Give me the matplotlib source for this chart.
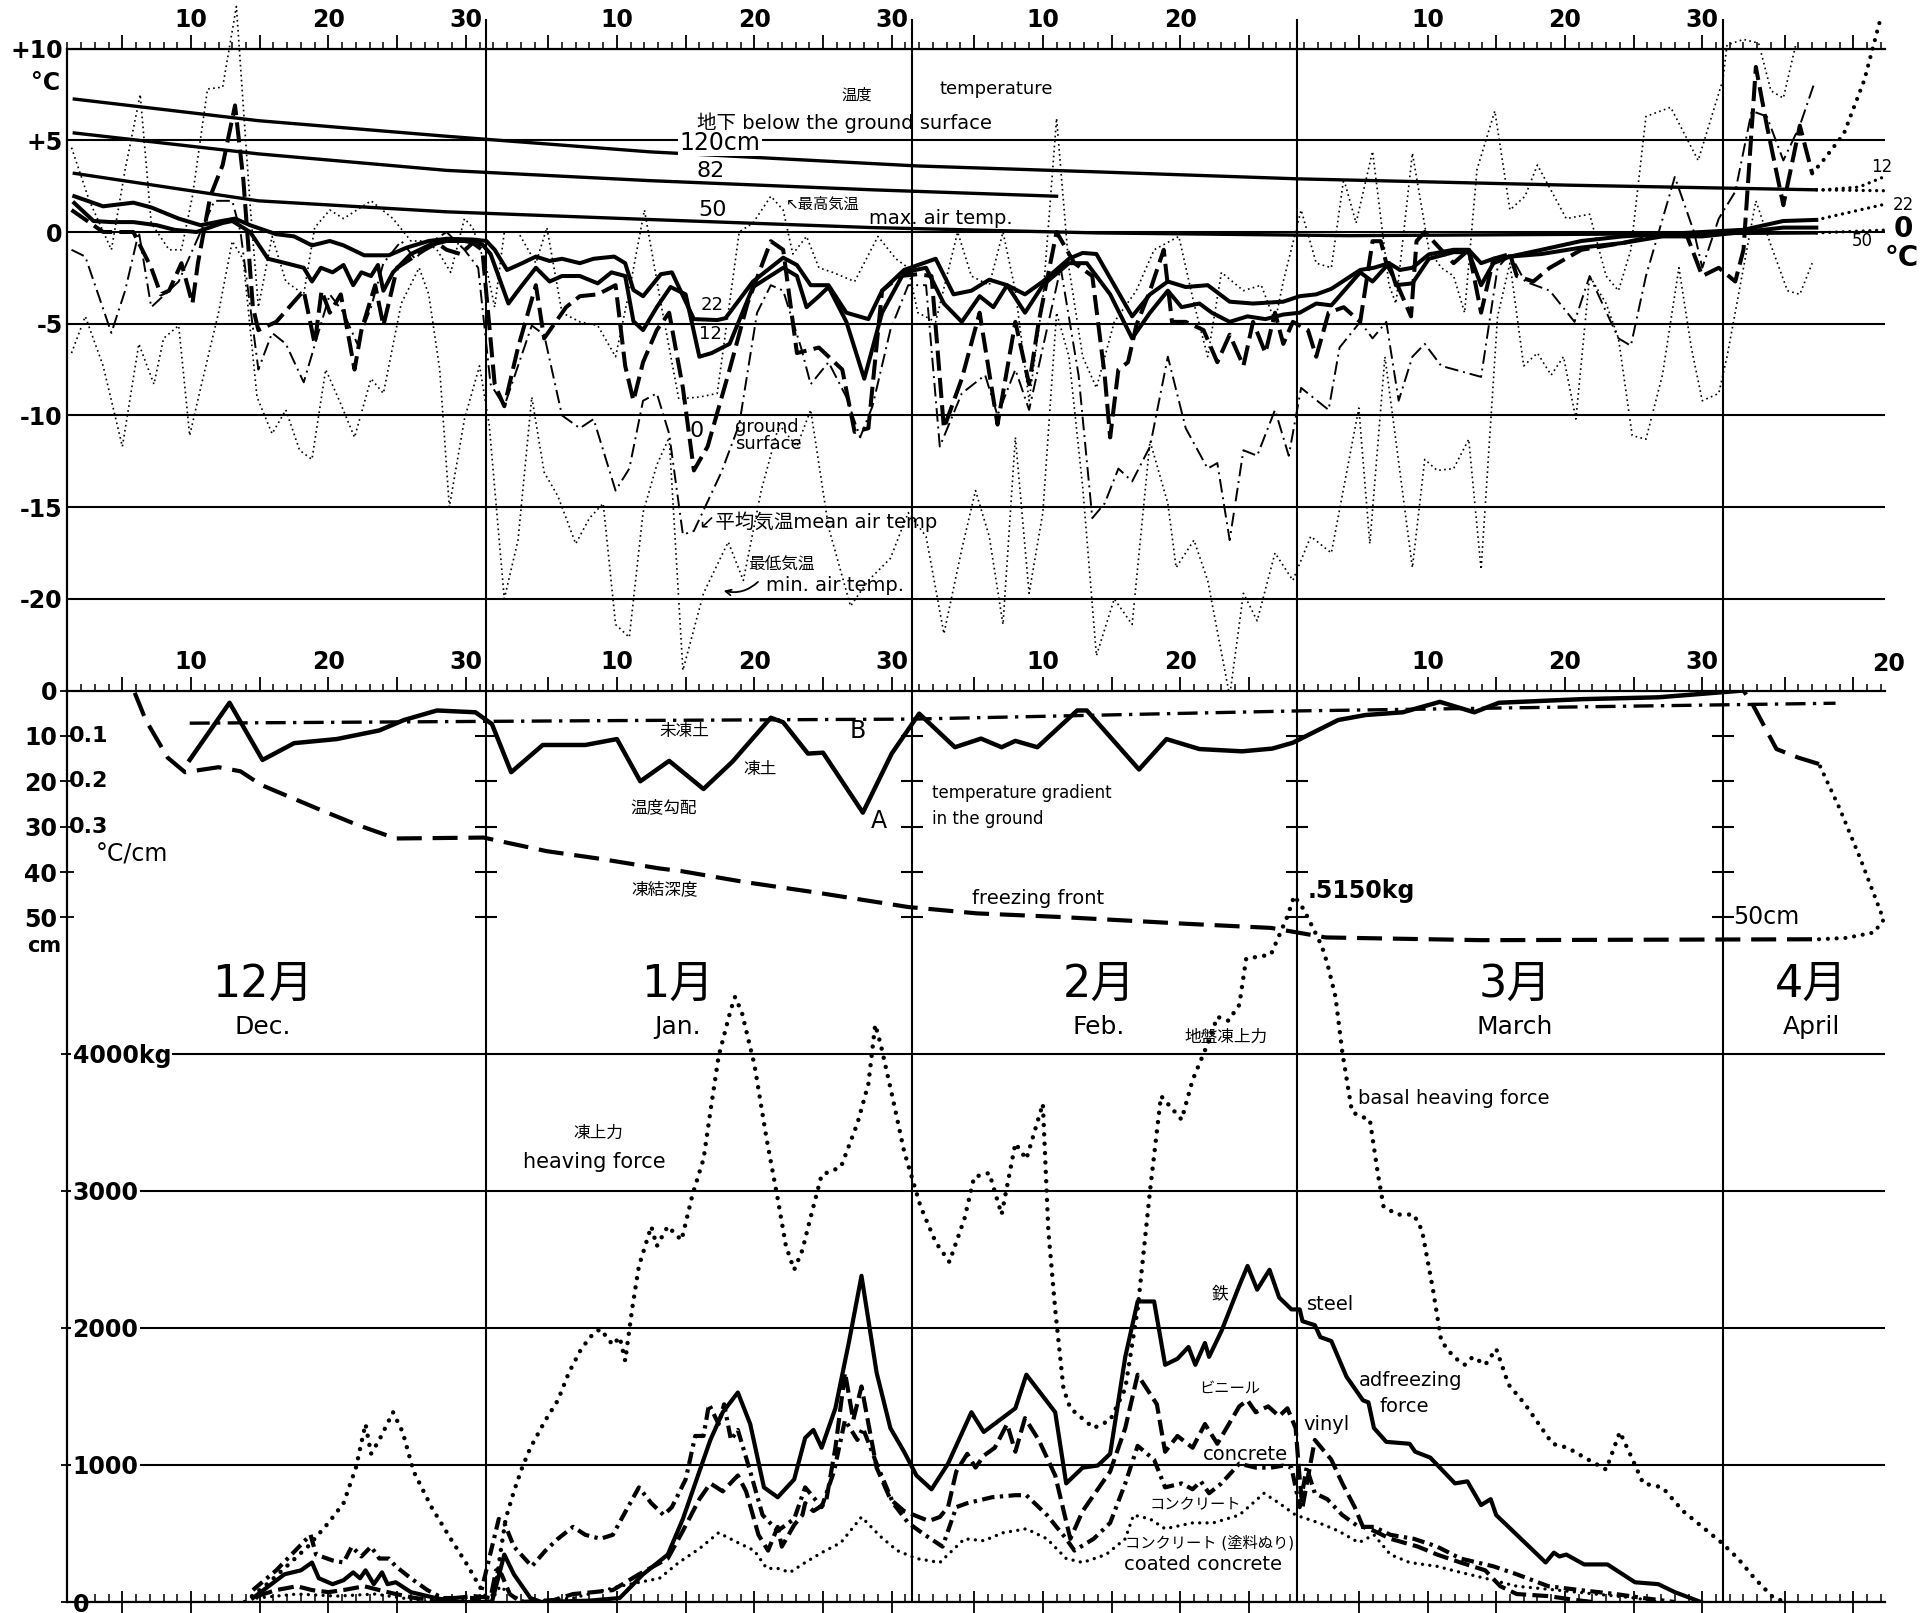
import matplotlib.pyplot as plt
import numpy as np

plt.rcParams['font.family'] = ['DejaVu Sans', 'Noto Sans CJK JP']

W, H = 1932, 1613

# calendar: day counter starts at Dec 1 (Dec, Jan, Feb, Mar, Apr)
month_start = [0, 31, 62, 90, 121]
month_len = [31, 31, 28, 31, 30]
month_kanji = ['12月', '1月', '2月', '3月', '4月']
month_name = ['Dec.', 'Jan.', 'Feb.', 'March', 'April']
x_lo, x_hi = 0.47, 132.8

# ---------------- temperatures (deg C) ----------------
temp_ticks = [10, 5, 0, -5, -10, -15, -20]
temp_labels = ['+10', '+5', '0', '-5', '-10', '-15', '-20']

t120 = [(1, 7.25), (14.4, 6.07), (28.1, 5.22), (42.9, 4.37), (62.4, 3.6), (75.4, 3.28),
        (90, 2.9), (110, 2.55), (127.8, 2.3)]
t82 = [(1, 5.4), (14.4, 4.26), (28.1, 3.36), (42.9, 2.8), (59.1, 2.3), (72.5, 1.95)]
t50 = [(1, 3.2), (14.4, 1.7), (28.1, 1.1), (42.9, 0.68), (59.1, 0.24), (75.4, -0.05),
       (93.8, -0.2), (127.8, -0.05)]
t22 = [(1, 1.95), (3.1, 1.4), (5.3, 1.6), (6.6, 1.34), (8.6, 0.73), (10.2, 0.37), (11.8, 0.61),
       (12.7, 0.73), (13.8, 0.37), (15.7, -0.12), (17, -0.24), (18.3, -0.73), (19.6, -0.49),
       (20.6, -0.73), (22.1, -1.27), (23.9, -1.27), (25.2, -0.85), (26.8, -0.49), (28.1, -0.37),
       (30, -0.41), (31, -0.49), (31.6, -0.97), (32.5, -2.07), (33.6, -1.7), (34.6, -1.34),
       (35.6, -1.58), (36.5, -1.46), (37.8, -1.7), (38.8, -1.46), (40.3, -1.34), (41.1, -1.7),
       (41.7, -3.16), (42.4, -3.5), (43.7, -2.3), (44.5, -2.2), (46.1, -4.75), (47.8, -4.8),
       (48.4, -4.7), (50.4, -2.7), (52.6, -1.4), (53.6, -1.8), (54.6, -2.9), (55.9, -2.9),
       (57.2, -4.4), (58.8, -4.75), (59.8, -3.2), (61.4, -2.07), (63.7, -1.46), (65, -3.4),
       (66.3, -3.2), (67.6, -2.6), (68.9, -2.9), (70.2, -3.4), (71.5, -2.7), (73.4, -1.46),
       (74.4, -1.14), (75.4, -1.2), (76.7, -2.9), (78, -4.6), (79.3, -3.4), (80.6, -2.7),
       (81.9, -3.0), (83.5, -2.9), (85.1, -3.8), (86.8, -3.9), (89, -3.8), (90.2, -3.5),
       (91.4, -3.4), (92.5, -3.1), (94.6, -2.07), (95.6, -1.95), (96.7, -1.7), (97.5, -2.07),
       (98.4, -1.95), (99.6, -1.22), (101.4, -0.97), (102.5, -0.97), (103.4, -1.7),
       (104.3, -1.46), (105.5, -1.34), (107.8, -0.97), (110.7, -0.49), (113.7, -0.24),
       (116.6, -0.12), (119.5, 0), (122.5, 0.12), (125.4, 0.6), (127.8, 0.66)]
t12 = [(1, 1.58), (2.4, 0.6), (3.7, 0.54), (5.3, 0.54), (7, 0.37), (8.3, 0.12), (9.9, 0),
       (11.8, 0.49), (12.5, 0.6), (13.8, 0), (15.1, -1.46), (16.4, -1.7), (17.7, -1.95),
       (18.3, -2.7), (18.95, -1.95), (19.8, -2.2), (20.6, -1.8), (21.3, -2.9), (21.9, -2.2),
       (22.6, -2.4), (23.1, -1.8), (23.5, -3.2), (24.2, -2.2), (25.5, -1.2), (26.8, -0.73),
       (28.1, -0.49), (29.4, -0.49), (30.7, -0.68), (31.3, -1.2), (32.6, -3.9), (33.6, -2.9),
       (34.6, -1.95), (35.6, -2.7), (36.5, -2.4), (37.8, -2.4), (39.1, -2.8), (40.1, -2.2),
       (41.1, -2.4), (41.7, -4.87), (42.4, -5.35), (43.4, -4.1), (44.4, -3.0), (45.5, -3.4),
       (46.5, -6.8), (47.4, -6.6), (48.7, -6.1), (50.4, -3.0), (52.6, -1.95), (53.6, -2.4),
       (54.3, -4.1), (55.2, -3.5), (55.9, -3.0), (57.2, -4.9), (58.5, -8.0), (59.8, -4.4),
       (61.4, -2.2), (63, -1.95), (64.3, -3.9), (65.6, -4.9), (66.9, -3.5), (67.9, -4.1),
       (68.9, -2.9), (70.2, -4.4), (71.5, -2.9), (73.4, -1.7), (74.7, -1.7), (76.4, -3.4),
       (78, -5.8), (79.3, -4.4), (80.6, -3.2), (81.6, -4.1), (82.9, -3.9), (83.8, -4.4),
       (85.1, -4.9), (86.4, -4.6), (87.7, -4.75), (89, -4.5), (90.2, -4.4), (91.4, -3.9),
       (92.5, -4.0), (94.6, -2.2), (95.5, -2.7), (96.7, -1.7), (97.2, -2.9), (98.4, -2.8),
       (99.6, -1.46), (101.4, -1.1), (102.5, -1.1), (103.4, -2.9), (104.3, -1.7),
       (105.5, -1.34), (107.8, -1.2), (110.7, -0.85), (113.7, -0.6), (116.6, -0.24),
       (119.5, -0.24), (122.5, 0), (125.4, 0.24), (127.8, 0.24)]
t_surface = [(0.8, 1.2), (3.1, 0), (5.3, 0), (6.6, -1.95), (7.3, -3.4), (7.9, -3.2), (8.8, -1.7),
             (9.6, -3.9), (10, -1.7), (10.9, 1.95), (11.8, 3.65), (12.7, 6.9), (13.3, 2.9),
             (14, -4.1), (14.4, -5.35), (15.7, -4.9), (17.7, -3.2), (18.5, -6.1), (19, -3.2),
             (19.6, -4.4), (20.4, -3.4), (21.4, -7.5), (21.9, -5.35), (22.9, -2.9), (23.5, -5.1),
             (24.5, -1.95), (25.5, -1.46), (26.5, -0.97), (27.4, -0.6), (28.1, -0.97),
             (29.1, -1.2), (30, -0.6), (30.7, -0.97), (31.6, -8.3), (32.3, -9.5), (33.3, -6.3),
             (34.6, -2.9), (35.2, -5.8), (36.8, -4.1), (37.8, -3.5), (39.1, -3.4), (40.4, -2.9),
             (41.1, -7.3), (41.7, -9.2), (42.4, -7.1), (43.4, -5.35), (44.3, -4.4), (45.3, -8.5),
             (46.1, -13.0), (47.1, -11.7), (48.7, -7.5), (50, -3.9), (51.7, -0.5), (52.6, -0.97),
             (53.6, -6.6), (55.2, -6.3), (56.9, -7.5), (57.8, -10.9), (58.8, -10.7),
             (59.8, -3.2), (61.1, -2.4), (62.4, -2.3), (63.4, -2.4), (64.3, -10.7), (65.6, -8.0),
             (66.9, -4.4), (68.2, -10.5), (69.5, -4.9), (70.5, -8.3), (71.2, -4.9), (72.5, 0),
             (73.8, -1.7), (75.1, -2.4), (76, -7.8), (76.4, -11.2), (77, -7.5), (77.7, -7.1),
             (78.3, -5.1), (79.3, -3.2), (80.3, -0.97), (80.9, -4.9), (81.9, -4.9),
             (83.2, -5.35), (84.2, -7.1), (85.1, -5.6), (86.1, -7.3), (86.8, -4.9), (87.7, -6.6),
             (88.4, -4.4), (89, -6.1), (89.7, -4.9), (90.8, -5.35), (91.4, -6.8), (92.3, -4.4),
             (93.4, -4.1), (94.6, -4.9), (95.5, -0.5), (96.1, -0.5), (96.5, -1.7), (97.2, -2.7),
             (98.3, -4.6), (98.7, -0.5), (99.3, 0), (100.5, -0.97), (101.4, -1.7),
             (102.5, -0.97), (103.4, -4.4), (104.3, -1.46), (105.5, -1.2), (106, -2.4),
             (107.2, -2.7), (108.4, -1.95), (110.7, -0.97), (113.7, -0.6), (116.6, -0.12),
             (118.4, -0.24), (119.5, -2.4), (120.7, -1.95), (121.9, -2.7), (122.5, -0.97),
             (123.4, 9.0), (124.2, 5.8), (125.4, 1.46), (126.6, 5.8), (127.5, 3.2)]
t_surface_ext = [(127.5, 3.2), (128.3, 3.9), (129.8, 5.35), (131.3, 8.3), (132.5, 11.7)]
t_mean = [(0.8, -0.97), (1.8, -1.34), (3.7, -5.5), (4.7, -3.2), (5.7, 0), (6.6, -4.1),
          (7.6, -3.4), (8.6, -2.7), (9.9, -0.49), (11.2, 1.7), (12.5, 1.7), (13.1, 0),
          (14.4, -7.5), (15.4, -5.5), (16.4, -6.1), (17.7, -8.2), (19, -4.9), (19.6, -3.4),
          (20.6, -4.4), (21.6, -6.1), (22.6, -4.1), (23.5, -1.7), (24.8, -0.49), (25.8, -1.46),
          (27.1, -0.49), (28.1, 0), (29.4, -0.97), (30.4, -1.95), (31.3, -8.3), (32.3, -9.5),
          (33.3, -7.3), (34.3, -5.1), (35.2, -5.6), (36.5, -10), (37.8, -10.7), (38.8, -10.2),
          (40.4, -14.1), (41.4, -12.9), (42.4, -9.2), (43.4, -8.8), (44.3, -11), (45.3, -16.5),
          (46.1, -16.3), (48.1, -13.1), (49.4, -10.5), (50.7, -4.4), (51.7, -2.9), (52.6, -3.2),
          (53.9, -6.3), (54.6, -8.3), (55.9, -7.1), (57.2, -9.0), (58.2, -11.2), (59.1, -9.5),
          (60.4, -5.35), (61.7, -2.9), (63, -2.9), (64, -11.7), (65.6, -8.8), (67.3, -7.8),
          (68.2, -10), (69.5, -7.5), (70.5, -9.7), (71.5, -6.3), (72.8, -1.95), (74.1, -7.8),
          (75.1, -15.6), (76, -14.8), (77, -12.9), (78, -13.6), (79.3, -11.7), (80.6, -6.8),
          (81.9, -10.7), (83.5, -12.9), (84.2, -12.6), (85.1, -16.8), (86.1, -11.9),
          (87.1, -12.2), (88.4, -9.7), (89.4, -12.2), (90.3, -8.5), (92.3, -9.7), (93.1, -6.3),
          (94.6, -4.9), (95.5, -5.8), (96.5, -4.9), (97.4, -9.2), (98.4, -6.8), (99.3, -6.1),
          (100.5, -7.3), (103.4, -7.9), (104.6, -1.95), (105.5, -1.2), (106.6, -2.7),
          (108.4, -3.2), (110.2, -4.9), (111.3, -2.4), (113.4, -5.8), (114.3, -6.2),
          (115.4, -2.4), (117.5, 3.0), (118.9, 0), (119.5, -1.95), (120.7, 0.73), (121.9, 2.2),
          (123.1, 6.6), (124.2, 6.3), (125.4, 3.9), (126.6, 5.8), (127.6, 8.0)]
t_max = [(0.8, 4.6), (2.1, 1.7), (3.7, -0.97), (4.7, 3.4), (5.8, 7.5), (6.6, 0.49), (7.9, -0.97),
         (8.8, -0.97), (9.6, 1.95), (10.7, 7.8), (11.8, 7.9), (12.8, 12.3), (13.8, 1.46),
         (14.4, -4.1), (15.4, -0.24), (16.4, -2.7), (17.7, -3.4), (18.5, 0.24), (19.6, 1.2),
         (20.6, 0.73), (22.6, 1.7), (24.2, 0.73), (25.5, -0.49), (26.5, -0.49), (27.4, -0.97),
         (28.4, -2.2), (29.4, 0.73), (30, 0.24), (31, -1.95), (31.6, -4.1), (32.3, 0), (33.3, 0),
         (34.6, -1.7), (35.4, 0.24), (36.5, -4.4), (37.8, -4.9), (39.1, -5.1), (40.4, -6.8),
         (41.4, -3.2), (42.5, 1.2), (43.7, -3.9), (45, -9.1), (46.5, -9.0), (47.8, -8.8),
         (49.4, 0), (50.4, 0.49), (51.7, 1.95), (52.6, 1.2), (53.3, -1.2), (54.3, -0.24),
         (55.2, -1.95), (56.2, -2.2), (57.8, -2.7), (59.5, -0.24), (60.8, -1.46), (61.7, -1.95),
         (62.4, -4.4), (63.7, -4.9), (65.3, 0), (66.3, -2.4), (67.6, -2.9), (68.6, 0),
         (69.5, -3.2), (70.5, -9.2), (71.5, -3.65), (72.5, 6.2), (73.4, -1.95), (74.4, -6.8),
         (75.4, -8.5), (76.7, -4.9), (78.3, -3.2), (79.6, -0.97), (81.4, -0.24), (82.5, -3.9),
         (83.5, -6.8), (84.5, -2.2), (86.1, -3.2), (87.4, -2.9), (88.4, -4.9), (89, -2.7),
         (90.3, 1.2), (91.4, -1.7), (92.5, -1.95), (93.4, 2.9), (94.3, 0.49), (95.5, 4.4),
         (96.7, -2.9), (97.2, -3.9), (98.4, 4.3), (99.6, -0.97), (100.5, -1.95), (101.4, -2.4),
         (102.2, -4.4), (103.1, 3.4), (104.4, 6.6), (105.5, 1.2), (106.6, 1.95), (107.5, 3.65),
         (108.4, 2.4), (109.6, 0.73), (111.3, 0.97), (112.5, -2.4), (113.4, -3.2),
         (114.3, -0.97), (115.4, 6.3), (117.2, 6.8), (119.2, 3.9), (121, 8.3), (121.3, 10.2),
         (122.5, 10.5), (123.6, 10.3), (124.5, 7.7), (125.4, 7.3), (126.3, 10.2)]
t_min = [(0.8, -6.6), (1.8, -4.6), (3.1, -7.3), (4.5, -11.7), (5.7, -6.1), (6.8, -8.3),
         (7.5, -5.8), (8.6, -5.1), (9.4, -11.1), (10.2, -8.5), (11.5, -4.4), (12.5, -0.5),
         (13.3, -1.5), (14.3, -9.0), (15.4, -11), (16.4, -9.7), (17.4, -11.9), (18.3, -12.4),
         (19.3, -7.5), (20.3, -9.2), (21.4, -11.2), (22.6, -8.0), (23.5, -8.8), (24.8, -3.9),
         (26.1, -1.95), (26.8, -3.4), (27.6, -7.5), (28.3, -15.0), (29.4, -10.2), (30.5, -7.3),
         (31.2, -10.5), (32.3, -20), (33.3, -16.8), (34.3, -9.0), (35.2, -13.1), (36.2, -14.4),
         (37.5, -17), (38.5, -15.6), (39.5, -14.8), (40.4, -21.4), (41.4, -22.1), (42.4, -15.3),
         (43.4, -12.7), (44.3, -11.2), (45.3, -23.9), (46.8, -19.7), (48.6, -16.9),
         (49.7, -19), (51, -14.1), (52.3, -10.5), (53.6, -11.7), (54.6, -9.7), (55.9, -16.1),
         (57.5, -20.4), (58.8, -19), (60.4, -17.8), (61.7, -15.3), (63, -16.6), (64.3, -21.9),
         (65.6, -17.3), (66.6, -14.1), (67.6, -16.6), (68.6, -21.4), (69.5, -11.2),
         (70.5, -19.7), (71.5, -15.3), (72.5, -4.4), (73.4, -6.8), (74.4, -13.9), (75.4, -23.1),
         (76.7, -20), (78, -21.4), (79.3, -11.4), (80.6, -14.8), (81.2, -18.3), (82.5, -16.8),
         (83.5, -19), (85.1, -25.3), (86.1, -19.7), (87.1, -21.2), (88.4, -17.5), (89.7, -19),
         (91, -16.6), (92.5, -17.5), (94.5, -9.6), (95.3, -17), (96.4, -6.8), (97.2, -11.4),
         (98.4, -18.3), (99.3, -12.4), (100.2, -13), (101.4, -12.9), (102.5, -11.3),
         (103.4, -18.4), (104.6, -4.6), (105.5, -1.7), (106.5, -7.3), (107.5, -6.6),
         (108.5, -7.8), (109.4, -6.8), (110.3, -10.2), (111.3, -2.4), (112.5, -3.9),
         (113.4, -5.8), (114.4, -11.1), (115.4, -11.3), (116.6, -7.8), (117.8, -1.95),
         (118.7, -6.3), (119.5, -9.2), (120.7, -8.8), (121.3, -6.8), (122.5, -1.95),
         (123.4, 1.7), (124.5, -0.73), (125.7, -3.2), (126.6, -3.4), (127.5, -1.7)]
# dotted extrapolations at the right edge (12, 120, 22, 50 cm)
ext_12 = [(128.3, 2.3), (130.9, 2.45), (132.7, 3.0)]
ext_120 = [(127.8, 2.3), (132.7, 2.25)]
ext_22 = [(127.8, 0.66), (132.7, 1.5)]
ext_50 = [(127.8, -0.05), (132.7, 0.1)]

# ---------------- frost depth (cm) and gradient (x100 -> cm scale) ----------------
depth_ticks = [0, 10, 20, 30, 40, 50]
grad_labels = ['0.1', '0.2', '0.3']
gradient = [(9.4, 15.3), (12.3, 2.7), (14.7, 15.3), (17, 11.6), (20.1, 10.7), (23.2, 8.8),
            (25, 6.5), (27.4, 4.4), (30.2, 4.8), (31.4, 7.4), (32.8, 18), (35.1, 12),
            (38.2, 12), (40.5, 10.7), (42.2, 20), (44.3, 15.5), (46.8, 21.7), (48.9, 15.7),
            (51.7, 6), (52.6, 7), (54.4, 13.9), (55.5, 13.7), (58.4, 26.9), (60.5, 13.9),
            (62.5, 5.1), (65.1, 12.5), (67, 10.6), (68.5, 12.5), (69.5, 11.1), (71.1, 12.5),
            (74, 4.4), (74.7, 4.4), (78.5, 17.4), (80.5, 10.7), (82.9, 12.9), (86, 13.4),
            (88.2, 12.8), (89.7, 11.5), (93, 6.5), (95, 5.4), (97.7, 4.8), (100.4, 2.5),
            (102.9, 4.8), (104.7, 2.7), (110.8, 1.9), (116.3, 1.5), (122.5, 0)]
front = [(5.4, 0.5), (6.2, 6.5), (7.8, 14.8), (9.06, 18), (11.5, 16.9), (13.1, 17.8),
         (14.6, 20.8), (18.6, 25.9), (21.6, 29.6), (24.4, 32.6), (30.8, 32.4), (32.3, 33.4),
         (35.4, 35.4), (39.1, 37), (43.6, 39.2), (45.2, 39.8), (49.8, 42.2), (55, 44.5),
         (61.7, 47.7), (66.7, 49.1), (72.8, 49.9), (82, 51.4), (88.1, 52.3), (92.1, 54.4),
         (103.4, 55), (128, 54.8)]
thaw_dotted = [(128, 54.8), (130, 54.5), (132, 53.3), (132.7, 50.5), (131, 37), (129.5, 26),
               (128, 16.2)]
thaw_dashed = [(128, 16.2), (126.5, 14.8), (124.9, 12.9), (123.1, 2.7), (122.5, 0)]
unfrozen = [(9.4, 7.2), (42, 6.6), (62, 6.3), (90, 4.5), (129.2, 2.8)]

# ---------------- forces (kg) ----------------
force_ticks = [0, 1000, 2000, 3000, 4000]
force_labels = ['0', '1000', '2000', '3000', '4000kg']
heaving = [(13.4, 0), (15.2, 144), (18, 404), (19.5, 577), (20.6, 721), (21.5, 980), (22.2, 1298),
           (22.6, 1081), (23.2, 1182), (24.2, 1384), (24.9, 1240), (25.7, 952), (27, 692),
           (28.4, 461), (29.5, 288), (30.5, 115), (31, 29), (31.6, 58), (32, 346), (32.4, 606),
           (33, 807), (33.6, 980), (34.2, 1125), (35.3, 1327), (36.2, 1471), (37, 1673),
           (37.9, 1846), (38.8, 1961), (39.3, 1990), (40.2, 1875), (40.7, 1932), (41.1, 1759),
           (41.6, 2134), (42.1, 2451), (43, 2740), (43.4, 2596), (44.2, 2740), (45.2, 2639),
           (46, 2971), (46.8, 3230), (47.3, 3576), (47.9, 3980), (48.8, 4326), (49.1, 4413),
           (49.6, 4297), (50.5, 3922), (51.4, 3374), (52.2, 2942), (52.8, 2596), (53.4, 2423),
           (54, 2567), (54.5, 2769), (55.4, 3115), (56.8, 3172), (58, 3490), (58.8, 3778),
           (59.3, 4211), (59.7, 4066), (60.6, 3663), (61.4, 3288), (62.6, 2884), (63.7, 2624),
           (64.7, 2480), (65.8, 2798), (66.5, 3100), (67.6, 3129), (68.5, 2826), (69.5, 3345),
           (70.3, 3230), (71.5, 3634), (71.9, 2711), (72.4, 2134), (73, 1557), (73.5, 1413),
           (75.2, 1269), (76.4, 1326), (77.5, 1557), (78.4, 2134), (79.3, 2999), (80.1, 3691),
           (81.6, 3518), (82.4, 3807), (83.6, 4095), (84.2, 4268), (85, 4240), (85.8, 4355),
           (86.3, 4692), (88.1, 4722), (89.3, 5000), (89.8, 5150), (90.5, 5050), (91.2, 4909),
           (91.8, 4785), (92.2, 4660), (92.8, 4415), (93.3, 4009), (94, 3576), (94.5, 3547),
           (95.3, 3518), (95.9, 3115), (96.3, 2884), (97.3, 2826), (98.5, 2826), (99.1, 2711),
           (99.9, 2278), (100.5, 1903), (101.4, 1788), (102.2, 1730), (102.8, 1788),
           (103.7, 1730), (104.5, 1846), (105.4, 1586), (106.6, 1442), (108.6, 1154),
           (109.7, 1125), (111.2, 1038), (112.5, 966), (113.5, 1240), (114.3, 1067), (115.2, 865),
           (116.6, 836), (118.1, 663), (119.5, 548), (120.9, 433), (122.1, 317), (123.3, 173),
           (124.7, 29), (125.6, 0)]
steel = [(14, 29), (16.3, 202), (17.5, 231), (18.3, 288), (18.8, 173), (19.8, 130), (20.6, 159),
         (21.3, 216), (21.8, 173), (22.2, 231), (22.8, 130), (23.4, 216), (23.8, 130), (24.4, 144),
         (25.5, 72), (27.3, 29), (28.7, 0), (31.4, 0), (32.3, 346), (33, 202), (34.2, 29), (35, 0),
         (38.5, 10), (40.7, 29), (42.4, 202), (44.2, 346), (45.3, 606), (46.5, 952), (47.3, 1182),
         (48.2, 1384), (49.3, 1528), (50.2, 1298), (51.2, 836), (52.2, 764), (53.4, 894),
         (54.2, 1197), (54.8, 1255), (55.4, 1125), (56.4, 1413), (57.4, 1903), (58.3, 2379),
         (59.4, 1673), (60.4, 1269), (61.4, 1096), (62.3, 923), (63.4, 822), (64.6, 1009),
         (66.3, 1384), (67.2, 1240), (69.5, 1413), (70.3, 1658), (72.4, 1384), (73.2, 865),
         (74.4, 980), (75.5, 995), (76.4, 1081), (77.5, 1788), (78.4, 2192), (79.6, 2192),
         (80.4, 1730), (81.3, 1774), (82.1, 1860), (82.6, 1730), (83.3, 1889), (83.6, 1788),
         (84.5, 1976), (85.8, 2307), (86.4, 2451), (87.1, 2278), (88, 2423), (88.7, 2221),
         (89.6, 2134), (90.2, 2134), (90.4, 2048), (91.3, 2019), (91.7, 1932), (92.5, 1903),
         (93.6, 1644), (94.8, 1471), (95.2, 1456), (95.6, 1269), (96.5, 1168), (98.2, 1154),
         (98.6, 1096), (99.7, 1053), (101.5, 865), (102.4, 880), (103.4, 707), (104.1, 750),
         (104.5, 634), (106, 490), (108.1, 288), (108.7, 360), (109.1, 332), (109.6, 346),
         (110.9, 274), (112.6, 274), (114.6, 144), (116.3, 130), (117.5, 72), (119.4, 0)]
vinyl = [(14.3, 43), (15.7, 87), (17.2, 115), (18.3, 87), (19.5, 72), (20.6, 87), (22.1, 115),
         (23.2, 87), (24.4, 58), (25.8, 29), (27.2, 14), (30.1, 43), (31.3, 29), (31.7, 231),
         (32.1, 202), (32.7, 58), (33.5, 0), (35.9, 14), (37.3, 58), (38.8, 72), (40.2, 87),
         (42.1, 202), (44.2, 317), (45.3, 519), (46.5, 750), (47.3, 865), (48.2, 807),
         (49.3, 923), (49.9, 807), (50.8, 490), (51.5, 375), (52.2, 548), (52.5, 404),
         (53.4, 562), (54, 634), (54.2, 721), (54.8, 663), (55.7, 721), (56.4, 1125),
         (57.1, 1673), (57.7, 1327), (58.3, 1572), (59.4, 980), (60.4, 750), (61.4, 663),
         (63.2, 591), (64, 620), (64.6, 692), (65.2, 952), (66, 1081), (66.6, 980), (67.2, 1067),
         (68, 1125), (68.9, 1298), (69.5, 1096), (70.2, 1341), (71.2, 1182), (72.4, 923),
         (73.5, 461), (74.4, 663), (75.2, 779), (76.4, 952), (77.5, 1269), (78.4, 1658),
         (79.8, 1442), (80.4, 1096), (81.3, 1211), (82.4, 1125), (83.3, 1298), (84.2, 1154),
         (85.8, 1427), (86.4, 1471), (87, 1384), (87.9, 1427), (88.7, 1355), (89.3, 1413),
         (89.9, 1269), (90.2, 894), (90.4, 692), (91.3, 1182), (92.5, 1038), (93.3, 865),
         (94.2, 692), (94.8, 548), (95.6, 519), (96.8, 461), (98.8, 404), (100.2, 346),
         (101.9, 288), (103.7, 231), (104.8, 115), (106, 58), (108.3, 43), (110.3, 14),
         (111.5, 0)]
concrete = [(14, 87), (15.7, 231), (18.2, 490), (18.6, 346), (19.8, 303), (20.6, 288), (21.2, 404),
            (21.9, 332), (22.6, 404), (23.2, 317), (23.9, 317), (24.4, 260), (25.5, 173),
            (26.7, 87), (27.8, 29), (30.5, 29), (31.9, 606), (32.3, 577), (33, 404), (34.3, 260),
            (35.3, 375), (36.2, 461), (37.3, 548), (38.2, 490), (39.3, 461), (40.2, 490),
            (41.3, 692), (42.1, 836), (43, 721), (43.9, 634), (44.5, 692), (45.5, 894),
            (46.2, 1211), (46.8, 1211), (47.2, 1442), (47.9, 1298), (48.3, 1442), (48.8, 1182),
            (49.3, 1255), (50.2, 952), (51.1, 634), (52.2, 519), (53.4, 606), (54.2, 836),
            (55.4, 692), (56.3, 952), (57.1, 1327), (58, 1182), (58.4, 1269), (59.4, 1009),
            (60.6, 721), (61.7, 577), (62.9, 490), (64.2, 404), (65.2, 692), (66, 721),
            (67.8, 764), (69.5, 779), (70.3, 779), (71.8, 634), (73.2, 461), (73.8, 375),
            (75.2, 461), (76.4, 577), (77.5, 865), (78.4, 1139), (79.6, 1038), (80.4, 836),
            (81.6, 865), (82.4, 822), (83, 880), (83.6, 793), (84.5, 865), (85.8, 1009),
            (87, 980), (88.1, 980), (89, 995), (89.6, 980), (90.2, 692), (90.7, 980), (91.3, 793),
            (92.2, 750), (93.3, 634), (94.5, 548), (95.6, 548), (96.8, 490), (98.5, 461),
            (100.2, 404), (101.9, 317), (104.3, 260), (106, 202), (108.3, 115), (110.6, 87),
            (113.2, 58), (115.2, 29), (117.5, 0)]
coated = [(14.3, 29), (17.2, 58), (20.1, 43), (22.9, 58), (24.9, 29), (26.5, 0), (31.3, 0),
          (32, 115), (32.7, 58), (33.8, 0), (37.3, 29), (40.7, 115), (43.6, 173), (45, 288),
          (46.5, 389), (47.9, 505), (49.3, 433), (50.5, 375), (51.4, 245), (52.2, 245),
          (53.1, 216), (54.2, 288), (55.4, 360), (56.8, 433), (58.3, 620), (59.7, 476),
          (60.9, 375), (62.3, 317), (64, 288), (65.8, 461), (67.2, 447), (68.6, 505), (70.3, 534),
          (71.8, 461), (73.2, 317), (74.4, 288), (76.1, 346), (77.5, 461), (78.1, 634),
          (79.3, 606), (80.4, 534), (82.4, 577), (83.9, 577), (85.8, 634), (87.6, 793),
          (88.7, 721), (89.9, 634), (91.6, 577), (93, 519), (94.5, 433), (95.6, 490), (96.8, 346),
          (98.2, 288), (100.2, 260), (101.9, 216), (103.7, 173), (106, 115), (108.9, 87),
          (111.7, 58), (114.6, 29), (116.3, 0)]


def xy(pts):
    return np.array(pts).T


def box(x0, y0, x1, y1):
    return [x0 / W, 1 - y1 / H, (x1 - x0) / W, (y1 - y0) / H]


def ptext(x, y, s, **kw):
    kw.setdefault('va', 'center')
    fig.text(x / W, 1 - y / H, s, **kw)


fig = plt.figure(figsize=(W / 100, H / 100), dpi=100)
ax_t = fig.add_axes(box(67, 48.6, 1885, 690.5))
ax_f = fig.add_axes(box(67, 690.5, 1885, 1602))
ax_d = fig.add_axes(box(67, 690.5, 1885, 1602))
ax_d.patch.set_visible(False)

# day ticks
minor_pos, major_pos, major_lab = [], [], []
for s, n in zip(month_start, month_len):
    for d in range(1, n + 1):
        p = s + d - 0.5
        if p > x_hi:
            continue
        if d % 5 == 0:
            major_pos.append(p)
            major_lab.append(str(d) if (d % 10 == 0 and s < 121) else '')
        else:
            minor_pos.append(p)

num_font = dict(fontsize=17, fontweight='bold')

# ---- temperature panel ----
ax = ax_t
ax.set_xlim(x_lo, x_hi)
ax.set_ylim(-25, 10)
for sp in ['right', 'bottom']:
    ax.spines[sp].set_visible(False)
ax.spines['top'].set_linewidth(1.6)
ax.spines['left'].set_linewidth(1.6)
ax.xaxis.tick_top()
ax.set_xticks(major_pos)
ax.set_xticklabels(major_lab, **num_font)
ax.set_xticks(minor_pos, minor=True)
ax.tick_params(axis='x', which='major', direction='out', length=10, width=1.3, pad=2)
ax.tick_params(axis='x', which='minor', direction='out', length=5, width=1.1)
ax.set_yticks(temp_ticks)
ax.set_yticklabels(temp_labels, **num_font)
ax.tick_params(axis='y', length=0, pad=3)
ax.grid(axis='y', color='black', lw=1.5)
ax.set_axisbelow(True)
for m in month_start[1:]:
    ax.axvline(m, ymin=0, ymax=1.045, color='black', lw=1.5, clip_on=False)

ax.plot(*xy(t120), color='black', lw=2.4, clip_on=False)
ax.plot(*xy(t82), color='black', lw=2.4, clip_on=False)
ax.plot(*xy(t50), color='black', lw=2.4, clip_on=False)
ax.plot(*xy(t22), color='black', lw=2.9, clip_on=False)
ax.plot(*xy(t12), color='black', lw=2.9, clip_on=False)
ax.plot(*xy(t_surface), color='black', lw=2.9, ls=(0, (5, 1.8)), clip_on=False)
ax.plot(*xy(t_mean), color='black', lw=1.4, ls=(0, (7, 2.5, 1, 2.5)), clip_on=False)
ax.plot(*xy(t_max), color='black', lw=1.2, ls=(0, (1, 2)), clip_on=False)
ax.plot(*xy(t_min), color='black', lw=1.2, ls=(0, (1, 2)), clip_on=False)
big_dots = dict(color='black', lw=3, ls=(0, (0.01, 2.1)), dash_capstyle='round', clip_on=False)
ax.plot(*xy(t_surface_ext), **big_dots)
small_dots = dict(color='black', lw=2.4, ls=(0, (0.01, 2.0)), dash_capstyle='round', clip_on=False)
for ext in (ext_12, ext_120, ext_22, ext_50):
    ax.plot(*xy(ext), **small_dots)

# ---- force panel ----
ax = ax_f
ax.set_xlim(x_lo, x_hi)
ax.set_ylim(0, 6648)
ax.spines['right'].set_visible(False)
for sp in ['top', 'bottom', 'left']:
    ax.spines[sp].set_linewidth(1.6)
ax.set_xticks(major_pos)
ax.set_xticklabels([''] * len(major_pos))
ax.set_xticks(minor_pos, minor=True)
ax.tick_params(axis='x', which='major', direction='inout', length=16, width=1.3)
ax.tick_params(axis='x', which='minor', direction='in', length=6, width=1.1)
ax.set_yticks(force_ticks)
ax.set_yticklabels(force_labels, **num_font)
ax.tick_params(axis='y', direction='inout', length=8, width=1.3, pad=-8)
for lab in ax.get_yticklabels():
    lab.set_horizontalalignment('left')
    lab.set_bbox(dict(facecolor='white', edgecolor='none', pad=1))
ax.grid(axis='y', color='black', lw=1.5)
ax.set_axisbelow(True)
for m in month_start[1:]:
    ax.axvline(m, color='black', lw=1.5)

ax.plot(*xy(heaving), color='black', lw=3.2, ls=(0, (0.01, 2.1)), dash_capstyle='round')
ax.plot(*xy(steel), color='black', lw=3)
ax.plot(*xy(vinyl), color='black', lw=3, ls=(0, (3.8, 1.5)))
ax.plot(*xy(concrete), color='black', lw=3, ls=(0, (3, 1.3, 0.8, 1.3)))
ax.plot(*xy(coated), color='black', lw=2.4, ls=(0, (0.01, 2.2)), dash_capstyle='round')

# ---- depth / gradient panel (overlay) ----
ax = ax_d
ax.set_xlim(x_lo, x_hi)
ax.set_ylim(200.8, 0)
for sp in ax.spines.values():
    sp.set_visible(False)
ax.xaxis.tick_top()
ax.set_xticks(major_pos)
ax.set_xticklabels(major_lab, **num_font)
ax.set_xticks(minor_pos, minor=True)
ax.tick_params(axis='x', which='major', direction='out', length=10, width=1.3, pad=2)
ax.tick_params(axis='x', which='minor', direction='out', length=5, width=1.1)
ax.set_yticks(depth_ticks)
ax.set_yticklabels([str(v) for v in depth_ticks], **num_font)
ax.tick_params(axis='y', direction='inout', length=10, width=1.3, pad=2)
for m in month_start[1:]:
    ax.plot([m] * 5, depth_ticks[1:], ls='none', marker='_', ms=16, mew=1.5, color='black')
for v, lab in zip(depth_ticks[1:4], grad_labels):
    ax.text(0.6, v, lab, fontsize=16, fontweight='bold', ha='left', va='center')

ax.plot(*xy(gradient), color='black', lw=3.2)
ax.plot(*xy(front), color='black', lw=3, ls=(0, (6, 2.6)))
ax.plot(*xy(thaw_dotted), color='black', lw=3, ls=(0, (0.01, 2.1)), dash_capstyle='round')
ax.plot(*xy(thaw_dashed), color='black', lw=3, ls=(0, (6, 2.6)))
ax.plot(*xy(unfrozen), color='black', lw=2.4, ls=(0, (6, 2.2, 1, 2.2)))

# ---------------- annotations ----------------
ptext(46, 83, '°C', fontsize=17, fontweight='bold', ha='center')
ptext(1889, 664, '20', fontsize=17, fontweight='bold', ha='center')
ptext(44, 946, 'cm', fontsize=15, fontweight='bold', ha='center')
ptext(132, 854, '°C/cm', fontsize=17, ha='center')

ptext(857, 95, '温度', fontsize=11, ha='center')
ptext(940, 89, 'temperature', fontsize=13, ha='left')
ptext(697, 123, '地下 below the ground surface', fontsize=14, ha='left')
ptext(720, 143, '120cm', fontsize=17, ha='center',
      bbox=dict(facecolor='white', edgecolor='none', pad=1))
ptext(711, 171, '82', fontsize=16, ha='center')
ptext(713, 210, '50', fontsize=16, ha='center')
ptext(786, 204, '↖最高気温', fontsize=11, ha='left')
ptext(869, 219, 'max. air temp.', fontsize=14, ha='left')
ptext(712, 305, '22', fontsize=13, ha='center')
ptext(710, 334, '12', fontsize=13, ha='center')
ptext(697, 431, '0', fontsize=16, ha='center')
ptext(735, 427, 'ground', fontsize=13, ha='left')
ptext(735, 444, 'surface', fontsize=13, ha='left')
ptext(699, 522, '↙平均気温mean air temp', fontsize=14, ha='left')
ptext(748, 565, '最低気温', fontsize=12, ha='left')
ptext(766, 586, 'min. air temp.', fontsize=14, ha='left')
ax_t.annotate('', xy=(721 / W, 1 - 590 / H), xycoords='figure fraction',
              xytext=(760 / W, 1 - 580 / H), textcoords='figure fraction',
              arrowprops=dict(arrowstyle='->', lw=1.3, connectionstyle='arc3,rad=-0.3'))

ptext(1882, 167, '12', fontsize=12, ha='center')
ptext(1903, 205, '22', fontsize=12, ha='center')
ptext(1903, 229, '0', fontsize=20, fontweight='bold', ha='center')
ptext(1862, 241, '50', fontsize=12, ha='center')
ptext(1902, 258, '°C', fontsize=20, fontweight='bold', ha='center')

ptext(684, 731, '未凍土', fontsize=12, ha='center')
ptext(858, 731, 'B', fontsize=17, ha='center')
ptext(760, 769, '凍土', fontsize=12, ha='center')
ptext(664, 807, '温度勾配', fontsize=12, ha='center')
ptext(879, 821, 'A', fontsize=17, ha='center')
ptext(932, 793, 'temperature gradient', fontsize=12, ha='left')
ptext(932, 819, 'in the ground', fontsize=12, ha='left')
ptext(665, 889, '凍結深度', fontsize=12, ha='center')
ptext(972, 898, 'freezing front', fontsize=14, ha='left')
ptext(1308, 891, '.5150kg', fontsize=17, fontweight='bold', ha='left')
ptext(1733, 917, '50cm', fontsize=17, ha='left')

for i in range(5):
    cx = [263, 678, 1099, 1515, 1811][i]
    ptext(cx, 984, month_kanji[i], fontsize=32, ha='center')
    ptext(cx, 1027, month_name[i], fontsize=18, ha='center')

ptext(598, 1133, '凍上力', fontsize=12, ha='center')
ptext(594, 1162, 'heaving force', fontsize=15, ha='center')
ptext(1226, 1037, '地盤凍上力', fontsize=12, ha='center')
ptext(1358, 1098, 'basal heaving force', fontsize=14, ha='left')
ptext(1220, 1293, '鉄', fontsize=12, ha='center')
ptext(1307, 1305, 'steel', fontsize=14, ha='left')
ptext(1230, 1388, 'ビニール', fontsize=11, ha='center')
ptext(1303, 1424, 'vinyl', fontsize=14, ha='left')
ptext(1359, 1380, 'adfreezing', fontsize=14, ha='left')
ptext(1380, 1406, 'force', fontsize=14, ha='left')
ptext(1245, 1454, 'concrete', fontsize=14, ha='center')
ptext(1195, 1505, 'コンクリート', fontsize=11, ha='center')
ptext(1210, 1543, 'コンクリート (塗料ぬり)', fontsize=11, ha='center')
ptext(1203, 1565, 'coated concrete', fontsize=14, ha='center')

fig.savefig('out.png', dpi=100)
